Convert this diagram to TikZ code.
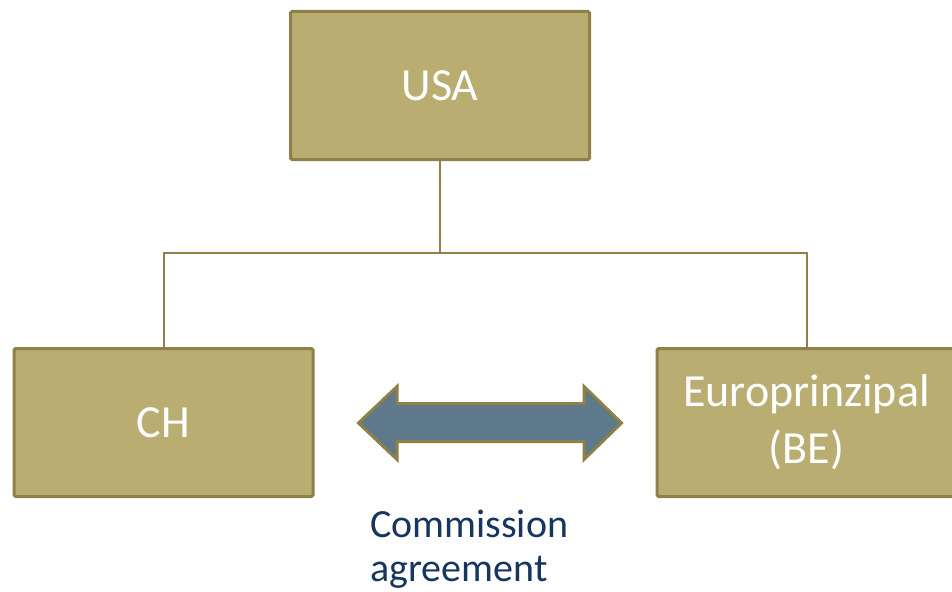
\documentclass[tikz,border=0pt]{standalone}
\usepackage{fontspec}
\setmainfont{Carlito}
\definecolor{boxfill}{RGB}{185,173,114}
\definecolor{boxline}{RGB}{142,128,70}
\definecolor{arrowfill}{RGB}{94,120,140}
\definecolor{navy}{RGB}{22,54,96}
\tikzset{
  entity/.style={draw=boxline, fill=boxfill, line width=3pt, rounded corners=1.5pt,
    minimum width=299pt, minimum height=148pt, inner sep=0pt, text=white,
    font=\fontsize{46}{57}\selectfont, align=center},
  link/.style={draw=boxline, line width=2pt},
  relation/.style={draw=boxline, fill=arrowfill, line width=3pt, line join=miter},
  caption/.style={text=navy, font=\fontsize{40}{44}\selectfont, align=left, inner sep=0pt}
}
\begin{document}
\begin{tikzpicture}[x=1pt, y=-1pt]
  \useasboundingbox (0,0) rectangle (952,591);
  \node[entity] (usa) at (440,85.5) {USA};
  \node[entity] (ch) at (163.5,422.5) {CH};
  \node[entity] (eu) at (806.5,422.5) {\raisebox{-6.5pt}{\shortstack{Europrinzipal\\[13pt](BE)}}};
  \coordinate (bus) at (440,253);
  \draw[link] (usa.south) -- (bus);
  \draw[link] (ch.north) |- (bus) -| (eu.north);
  % two-headed arrow for the commission agreement
  \draw[relation] (358.5,423) -- (397,386.5) -- (397,403.5) -- (584,403.5) -- (584,386.5)
    -- (621.5,423) -- (584,459.5) -- (584,441.5) -- (397,441.5) -- (397,459.5) -- cycle;
  \node[caption, anchor=base west] (deal) at (370,581) {Commission\\agreement};
\end{tikzpicture}
\end{document}
